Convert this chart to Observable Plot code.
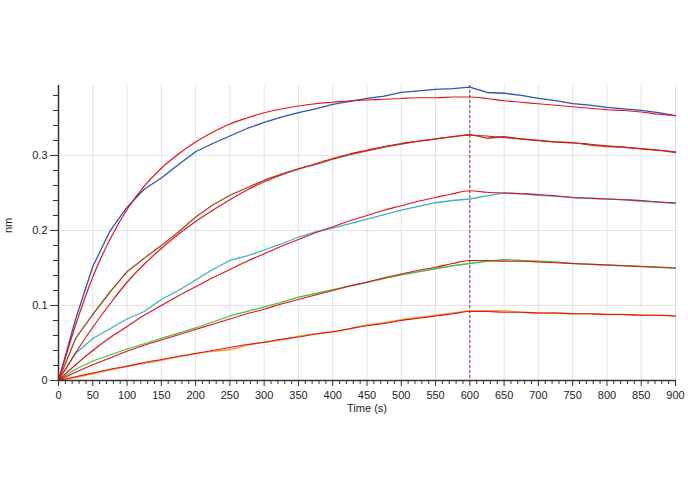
<!DOCTYPE html>
<html>
<head>
<meta charset="utf-8">
<script src="https://cdn.jsdelivr.net/npm/d3@7"></script>
<script src="https://cdn.jsdelivr.net/npm/@observablehq/plot@0.6"></script>
<style>
  html, body { margin: 0; padding: 0; background: #fff; }
  #chart { width: 688px; height: 490px; }
</style>
</head>
<body>
<div id="chart"></div>
<script>
// Time grid (s)
const times = [0,25,50,75,100,125,150,175,200,225,250,275,300,325,350,375,400,425,450,475,500,525,550,575,600,625,650,675,700,725,750,775,800,825,850,875,900];

// Measured responses (nm)
const data1 = [0,0.082,0.152,0.199,0.231,0.255,0.270,0.288,0.305,0.316,0.326,0.336,0.344,0.351,0.357,0.362,0.368,0.372,0.376,0.379,0.384,0.386,0.388,0.389,0.391,0.384,0.383,0.380,0.376,0.373,0.369,0.367,0.364,0.362,0.360,0.357,0.353];
const data2 = [0,0.056,0.088,0.118,0.145,0.163,0.180,0.198,0.218,0.234,0.247,0.257,0.267,0.275,0.282,0.288,0.295,0.301,0.306,0.311,0.315,0.319,0.322,0.325,0.328,0.323,0.325,0.322,0.320,0.318,0.317,0.314,0.312,0.311,0.309,0.307,0.304];
const data3 = [0,0.036,0.056,0.069,0.082,0.092,0.108,0.120,0.134,0.148,0.160,0.166,0.174,0.182,0.191,0.198,0.203,0.209,0.215,0.221,0.227,0.232,0.237,0.240,0.242,0.246,0.250,0.249,0.247,0.246,0.244,0.243,0.242,0.241,0.239,0.238,0.236];
const data4 = [0,0.015,0.026,0.034,0.042,0.049,0.056,0.063,0.070,0.078,0.086,0.092,0.098,0.104,0.111,0.116,0.121,0.126,0.131,0.136,0.141,0.145,0.149,0.153,0.156,0.159,0.161,0.160,0.159,0.158,0.156,0.155,0.154,0.153,0.152,0.151,0.150];
const data5 = [0,0.004,0.009,0.014,0.019,0.023,0.027,0.032,0.036,0.039,0.041,0.047,0.051,0.054,0.059,0.062,0.065,0.069,0.074,0.077,0.081,0.084,0.087,0.090,0.093,0.093,0.093,0.091,0.090,0.090,0.089,0.089,0.088,0.088,0.087,0.087,0.086];

// Model fits (nm)
const fit1 = [0,0.074,0.138,0.188,0.228,0.259,0.283,0.302,0.318,0.331,0.342,0.350,0.357,0.362,0.366,0.369,0.371,0.373,0.374,0.375,0.376,0.377,0.377,0.378,0.378,0.376,0.373,0.371,0.369,0.367,0.365,0.363,0.361,0.360,0.358,0.355,0.353];
const fit2 = [0,0.037,0.071,0.102,0.131,0.155,0.176,0.195,0.212,0.227,0.241,0.254,0.265,0.274,0.282,0.289,0.296,0.302,0.307,0.312,0.316,0.319,0.322,0.325,0.327,0.326,0.324,0.322,0.320,0.318,0.317,0.315,0.313,0.311,0.309,0.307,0.305];
const fit3 = [0,0.021,0.040,0.057,0.072,0.087,0.100,0.113,0.125,0.137,0.148,0.159,0.169,0.179,0.188,0.197,0.205,0.213,0.220,0.227,0.233,0.239,0.244,0.249,0.253,0.251,0.250,0.249,0.248,0.246,0.244,0.243,0.242,0.241,0.240,0.238,0.237];
const fit4 = [0,0.011,0.021,0.030,0.039,0.047,0.054,0.061,0.068,0.075,0.082,0.089,0.095,0.102,0.108,0.114,0.120,0.126,0.131,0.137,0.142,0.147,0.151,0.156,0.160,0.160,0.159,0.159,0.158,0.157,0.156,0.155,0.154,0.153,0.152,0.151,0.150];
const fit5 = [0,0.005,0.010,0.015,0.019,0.024,0.028,0.032,0.036,0.040,0.044,0.048,0.051,0.055,0.058,0.062,0.065,0.069,0.073,0.076,0.080,0.083,0.086,0.089,0.092,0.092,0.091,0.091,0.090,0.090,0.089,0.089,0.088,0.088,0.087,0.087,0.086];

const seriesNames = ["s1","s2","s3","s4","s5"];
const dataColors = ["#2a55b5","#9a4a1c","#35b4c4","#45c045","#f2a030"];
const fitColor = "#e3141e";

const xMajor = [0,50,100,150,200,250,300,350,400,450,500,550,600,650,700,750,800,850,900];
const xMinor = [10,20,30,40,60,70,80,90,110,120,130,140,160,170,180,190,210,220,230,240,260,270,280,290,310,320,330,340,360,370,380,390,410,420,430,440,460,470,480,490,510,520,530,540,560,570,580,590,610,620,630,640,660,670,680,690,710,720,730,740,760,770,780,790,810,820,830,840,860,870,880,890];
const yMajor = [0,0.1,0.2,0.3];
const yMinor = [0.02,0.04,0.06,0.08,0.12,0.14,0.16,0.18,0.22,0.24,0.26,0.28,0.32,0.34,0.36,0.38];
const gridX = [50,100,150,200,250,300,350,400,450,500,550,600,650,700,750,800,850,900];
const gridY = [0.1,0.2,0.3];

const dataSets = [data1,data2,data3,data4,data5];
const fitSets = [fit1,fit2,fit3,fit4,fit5];
const dataRows = dataSets.flatMap((arr, k) => times.map((t, i) => ({t, v: arr[i], s: seriesNames[k]})));
const fitRows = fitSets.flatMap((arr, k) => times.map((t, i) => ({t, v: arr[i], s: seriesNames[k]})));

const font = "Arial, 'Liberation Sans', sans-serif";

const chart = Plot.plot({
  width: 688,
  height: 490,
  marginLeft: 58,
  marginRight: 13,
  marginTop: 85,
  marginBottom: 110,
  style: {fontFamily: font, fontSize: "11px", color: "#222", background: "#fff"},
  x: {domain: [0, 900], label: null},
  y: {domain: [0, 0.3933], label: null},
  color: {domain: seriesNames, range: dataColors},
  marks: [
    Plot.gridX(gridX, {stroke: "#e2e2e2", strokeOpacity: 1}),
    Plot.gridY(gridY, {stroke: "#e2e2e2", strokeOpacity: 1}),
    Plot.ruleX([600], {stroke: "#a8283a", strokeWidth: 1, strokeDasharray: "3,2"}),
    Plot.line(dataRows, {x: "t", y: "v", z: "s", stroke: "s", strokeWidth: 1.3}),
    Plot.line(fitRows, {x: "t", y: "v", z: "s", stroke: fitColor, strokeWidth: 1.2, curve: "monotone-x"}),
    Plot.ruleX([0], {stroke: "#333", strokeWidth: 1.5}),
    Plot.ruleY([0], {stroke: "#333", strokeWidth: 1.5}),
    Plot.axisX({ticks: xMajor, tickSize: 6, tickPadding: 5, tickFormat: d => String(d), label: null, stroke: "#333", fill: "#222"}),
    Plot.axisX({ticks: xMinor, tickSize: 4, tickFormat: () => "", label: null, stroke: "#333"}),
    Plot.axisY({ticks: yMajor, tickSize: 8, tickPadding: 3, tickFormat: d => d === 0 ? "0" : d3.format(".1f")(d), label: null, stroke: "#333", fill: "#222"}),
    Plot.axisY({ticks: yMinor, tickSize: 5, tickFormat: () => "", label: null, stroke: "#333"}),
    Plot.text(["Time (s)"], {frameAnchor: "bottom", dy: 31, fill: "#222", fontSize: 11}),
    Plot.text(["nm"], {frameAnchor: "left", dx: -50, rotate: -90, fill: "#222", fontSize: 11})
  ]
});
document.getElementById("chart").appendChild(chart);
</script>
</body>
</html>
